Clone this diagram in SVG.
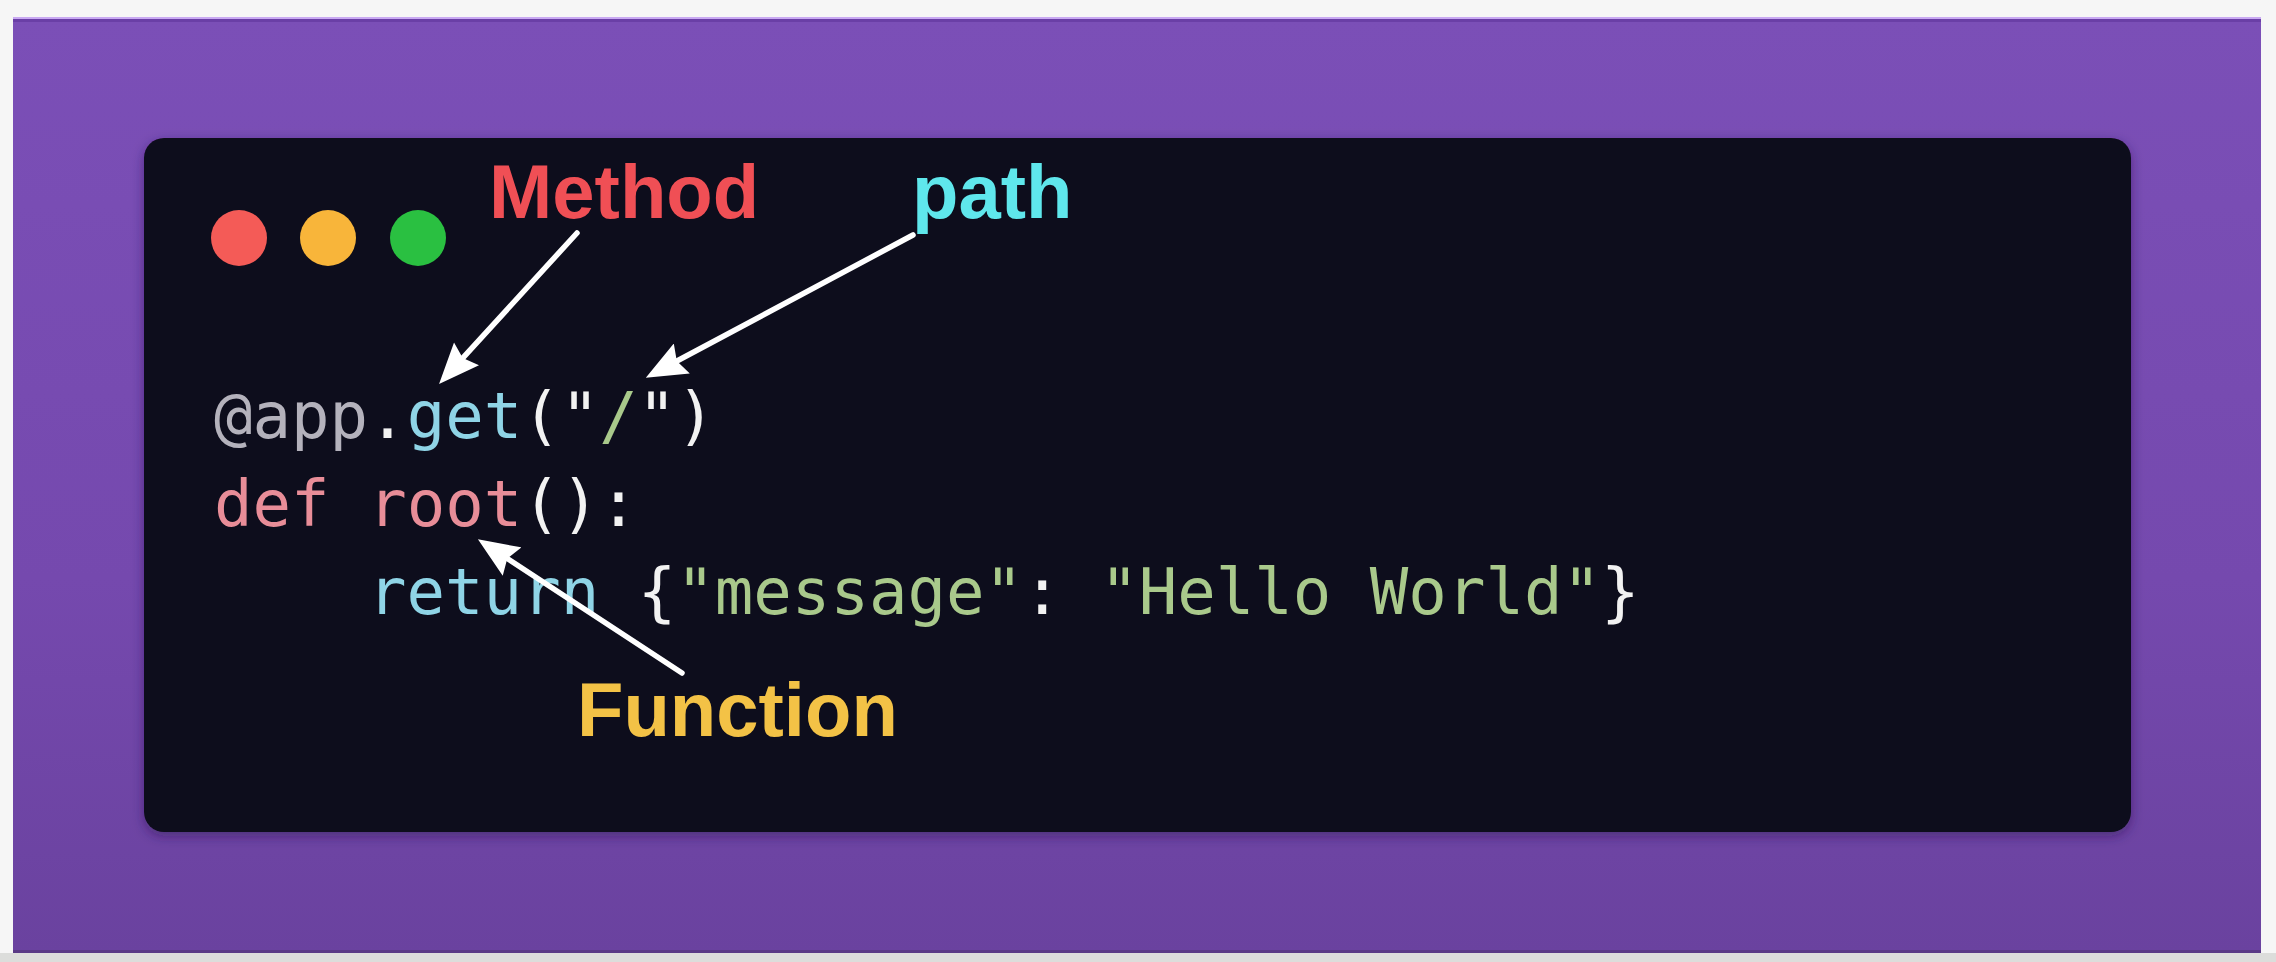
<svg xmlns="http://www.w3.org/2000/svg" width="2276" height="962" viewBox="0 0 2276 962">
  <style>
    .code { font-family: "DejaVu Sans Mono", "Liberation Mono", monospace; font-size: 64px; white-space: pre; }
    .lbl { font-family: "Liberation Sans", Arial, sans-serif; font-weight: bold; font-size: 76px; }
    .w { fill: #f2f2f2; }
    .gray { fill: #b4b2bc; }
    .blue { fill: #8fd4e6; }
    .pink { fill: #e88d98; }
    .green { fill: #a9c98b; }
    .arrow { stroke: #ffffff; stroke-width: 5.5; fill: none; stroke-linecap: round; }
  </style>
  <defs>
    <linearGradient id="bg" x1="0" y1="0" x2="0" y2="1">
      <stop offset="0" stop-color="#7b4fb7"/>
      <stop offset="0.6" stop-color="#7549ae"/>
      <stop offset="1" stop-color="#6a429f"/>
    </linearGradient>
    <marker id="head" markerUnits="userSpaceOnUse" markerWidth="42" markerHeight="34" viewBox="0 0 36 30" refX="26" refY="15" orient="auto">
      <path d="M0,0 L36,15 L0,30 L5,15 z" fill="#ffffff"/>
    </marker>
    <filter id="shadow" x="-5%" y="-5%" width="110%" height="115%">
      <feDropShadow dx="0" dy="4" stdDeviation="6" flood-color="#2a1050" flood-opacity="0.5"/>
    </filter>
  </defs>

  <g id="page">
    <rect x="0" y="0" width="2276" height="962" fill="#f6f6f6"/>
    <rect x="0" y="953" width="2276" height="9" fill="#dcdddb"/>
    <rect x="13" y="17" width="2248" height="936" fill="url(#bg)"/>
    <rect x="13" y="17" width="2248" height="2" fill="#c9a9f2"/>
    <rect x="13" y="19" width="2248" height="3" fill="#6a3fa6"/>
    <rect x="13" y="950" width="2248" height="3" fill="#5a3a86"/>
  </g>

  <g id="window">
    <rect x="144" y="138" width="1987" height="694" rx="20" ry="20" fill="#110c1b" filter="url(#shadow)"/>
  </g>

  <g id="dots">
    <circle cx="239" cy="238" r="28" fill="#f45b57"/>
    <circle cx="328" cy="238" r="28" fill="#f8b53a"/>
    <circle cx="418" cy="238" r="28" fill="#2ac041"/>
  </g>

  <g id="code" class="code">
    <text x="214" y="438"><tspan class="gray">@app</tspan><tspan class="w">.</tspan><tspan class="blue">get</tspan><tspan class="w">("</tspan><tspan class="green">/</tspan><tspan class="w">")</tspan></text>
    <text x="214" y="526"><tspan class="pink">def root</tspan><tspan class="w">():</tspan></text>
    <text x="368" y="614"><tspan class="blue">return</tspan><tspan class="w"> {</tspan><tspan class="green">"message"</tspan><tspan class="w">: </tspan><tspan class="green">"Hello World"</tspan><tspan class="w">}</tspan></text>
  </g>

  <g id="label-method">
    <text class="lbl" x="489" y="218" fill="#f04f55">Method</text>
  </g>
  <g id="label-path">
    <text class="lbl" x="912" y="218" fill="#5fe7ec">path</text>
  </g>
  <g id="label-function">
    <text class="lbl" x="577" y="736" fill="#f3c246">Function</text>
  </g>

  <g id="connectors">
    <path class="arrow" d="M577,233 L446.7,375.6" marker-end="url(#head)"/>
    <path class="arrow" d="M913,235 L655.8,372.3" marker-end="url(#head)"/>
    <path class="arrow" d="M682,673 L487.4,545.5" marker-end="url(#head)"/>
  </g>
</svg>
